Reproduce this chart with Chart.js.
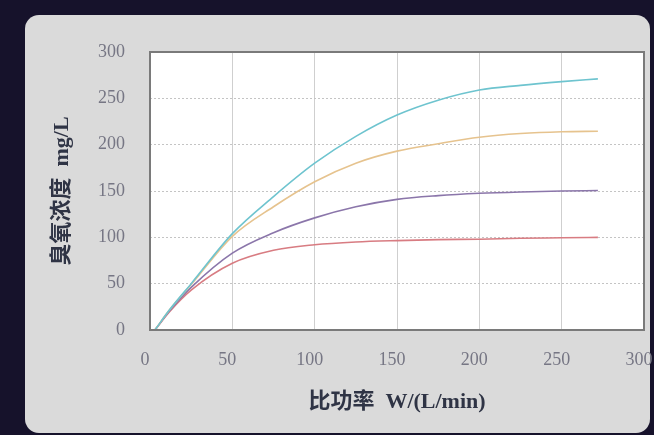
<!DOCTYPE html>
<html>
<head>
<meta charset="utf-8">
<script src="https://cdn.jsdelivr.net/npm/chart.js@4"></script>
<style>
    html, body { margin: 0; padding: 0; }
    body { width: 654px; height: 435px; background: #16122b; position: relative; overflow: hidden; }
    .card { position: absolute; left: 25px; top: 15px; width: 625px; height: 418px; background: #dadada; border-radius: 14px; }
    #ozoneChart { position: absolute; left: 0; top: 0; }
</style>
</head>
<body>
<div class="card"></div>
<canvas id="ozoneChart" width="654" height="435"></canvas>
<script>
// specific power W/(L/min)
const powerValues = [3, 12, 25, 50, 75, 100, 125, 150, 175, 200, 225, 250, 272];
// ozone concentration mg/L, one array per curve
const cyanSeries   = [0, 22, 50, 104, 144, 180, 209, 232, 248, 259, 264, 268, 271];
const orangeSeries = [0, 22, 49, 101, 133, 160, 180, 193, 201, 208, 212, 214, 214.5];
const purpleSeries = [0, 21, 46, 83, 105, 121, 133, 141, 145, 147.5, 149, 150, 150.5];
const redSeries    = [0, 20, 43, 72, 86, 92, 95, 96.5, 97.5, 98, 99, 99.5, 100];

const xTicks = [0, 50, 100, 150, 200, 250, 300];
const yTicks = [0, 50, 100, 150, 200, 250, 300];

const xTitle = '比功率  W/(L/min)';
const yTitle = '臭氧浓度  mg/L';

const serif = "'Liberation Serif', 'Noto Sans CJK SC', serif";

function toPoints(ys) {
    return ys.map((y, i) => ({ x: powerValues[i], y: y }));
}

function makeSet(ys, color) {
    return {
        data: toPoints(ys),
        borderColor: color,
        borderWidth: 1.6,
        pointRadius: 0,
        showLine: true,
        fill: false,
        cubicInterpolationMode: 'monotone'
    };
}

// white plot area + full frame around it
const plotFrame = {
    id: 'plotFrame',
    beforeDraw(chart) {
        const a = chart.chartArea;
        const c = chart.ctx;
        c.save();
        c.fillStyle = '#ffffff';
        c.fillRect(a.left, a.top, a.right - a.left, a.bottom - a.top);
        c.restore();
    },
    afterDraw(chart) {
        const a = chart.chartArea;
        const c = chart.ctx;
        c.save();
        c.strokeStyle = '#7a7a7a';
        c.lineWidth = 2;
        c.strokeRect(a.left, a.top, a.right - a.left, a.bottom - a.top);
        c.restore();
    }
};

const ctx = document.getElementById('ozoneChart');

new Chart(ctx, {
    type: 'scatter',
    data: {
        datasets: [
            makeSet(cyanSeries, '#6ec4cf'),
            makeSet(orangeSeries, '#e6c38e'),
            makeSet(purpleSeries, '#8b76aa'),
            makeSet(redSeries, '#d87c82')
        ]
    },
    options: {
        responsive: false,
        animation: false,
        layout: { padding: { left: 0, top: 52, right: 10, bottom: 0 } },
        plugins: {
            legend: { display: false },
            tooltip: { enabled: false }
        },
        scales: {
            x: {
                type: 'linear',
                min: 0,
                max: 300,
                afterBuildTicks: (s) => { s.ticks = xTicks.map(v => ({ value: v })); },
                afterFit: (s) => { s.height = 105; s.paddingRight = 0; s.paddingLeft = 0; },
                grid: { color: '#cfcfcf', lineWidth: 1, drawTicks: false },
                border: { display: false },
                ticks: {
                    padding: 19,
                    labelOffset: -5,
                    color: '#767684',
                    font: { family: serif, size: 18 }
                },
                title: {
                    display: true,
                    text: xTitle,
                    color: '#2f3445',
                    padding: { top: 0, bottom: 19 },
                    font: { family: serif, size: 22, weight: 'bold' }
                }
            },
            y: {
                min: 0,
                max: 300,
                afterBuildTicks: (s) => { s.ticks = yTicks.map(v => ({ value: v })); },
                afterFit: (s) => { s.width = 150; s.paddingTop = 0; s.paddingBottom = 0; },
                grid: { color: '#c4c4c4', lineWidth: 1, drawTicks: false },
                border: { display: false, dash: [2, 2] },
                ticks: {
                    padding: 25,
                    color: '#767684',
                    font: { family: serif, size: 18 }
                },
                title: {
                    display: true,
                    text: yTitle,
                    color: '#2f3445',
                    padding: { top: 49, bottom: 0 },
                    font: { family: serif, size: 22, weight: 'bold' }
                }
            }
        }
    },
    plugins: [plotFrame]
});
</script>
</body>
</html>
